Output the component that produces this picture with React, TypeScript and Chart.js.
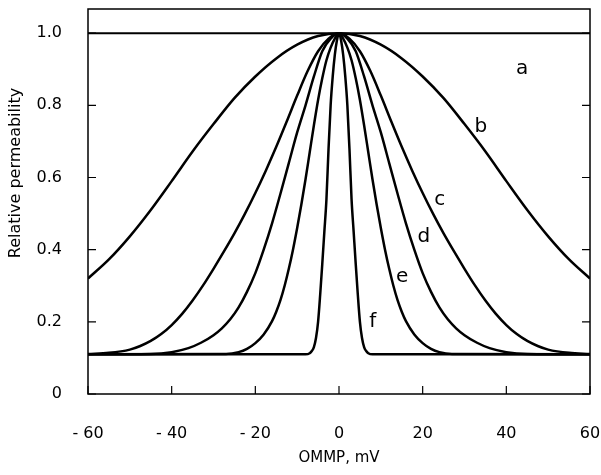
import React, { useEffect, useRef } from 'react';
import { Chart, registerables } from 'chart.js';

Chart.register(...registerables);

// x range and ticks (mV)
const xTicks = [-60, -40, -20, 0, 20, 40, 60];
const yTicks = [0, 0.2, 0.4, 0.6, 0.8, 1.0];

// curve a: flat
const aX = [-60, 60];
const aY = [1.0, 1.0];

// half profiles (offset from 0 mV), curves are symmetric about 0
const bOffsets = [0, 5, 10, 15, 20, 25, 30, 35, 40, 45, 50, 55, 60];
const bValues = [1.0, 0.992, 0.968, 0.93, 0.88, 0.82, 0.748, 0.672, 0.59, 0.51, 0.437, 0.373, 0.32];

const cOffsets = [0, 2.5, 5, 7.5, 10, 12.5, 15, 17.5, 20, 22.5, 25, 27.5, 30, 32.5, 35, 37.5, 40, 42.5, 45, 47.5, 50, 55, 60];
const cValues = [1.0, 0.985, 0.95, 0.895, 0.827, 0.755, 0.685, 0.619, 0.557, 0.499, 0.445, 0.395, 0.347, 0.301, 0.259, 0.222, 0.191, 0.166, 0.147, 0.133, 0.123, 0.114, 0.111];

const dOffsets = [0, 2, 4, 6, 8, 10, 12, 14, 16, 18, 20, 22, 24, 26, 28, 30, 33, 36, 40, 45, 60];
const dValues = [1.0, 0.985, 0.95, 0.88, 0.8, 0.725, 0.64, 0.555, 0.473, 0.4, 0.335, 0.283, 0.24, 0.207, 0.182, 0.163, 0.142, 0.127, 0.116, 0.111, 0.11];

const eOffsets = [0, 1, 2, 3, 4, 5, 6, 7, 8, 9, 10, 11, 12, 13, 14, 15, 16, 18, 20, 22, 24, 27, 60];
const eValues = [1.0, 0.985, 0.96, 0.925, 0.875, 0.815, 0.745, 0.67, 0.595, 0.525, 0.46, 0.4, 0.347, 0.3, 0.26, 0.228, 0.202, 0.165, 0.141, 0.125, 0.116, 0.111, 0.11];

const fOffsets = [0, 0.5, 1, 1.5, 2, 2.5, 3, 3.5, 4, 4.5, 5, 5.5, 6, 6.5, 7, 8, 60];
const fValues = [1.0, 0.98, 0.94, 0.88, 0.8, 0.68, 0.54, 0.45, 0.36, 0.275, 0.2, 0.155, 0.13, 0.119, 0.113, 0.11, 0.11];

// curve letter annotations (data coordinates)
const letterText = ['a', 'b', 'c', 'd', 'e', 'f'];
const letterX = [43.8, 33.9, 24.1, 20.3, 15.1, 8.1];
const letterY = [0.9, 0.74, 0.537, 0.435, 0.324, 0.2];

const FONT = "'DejaVu Sans', sans-serif";

function mirror(offsets: number[], values: number[]) {
  const pts: { x: number; y: number }[] = [];
  for (let i = offsets.length - 1; i > 0; i--) pts.push({ x: -offsets[i], y: values[i] });
  for (let i = 0; i < offsets.length; i++) pts.push({ x: offsets[i], y: values[i] });
  return pts;
}

const framePlugin = {
  id: 'frame',
  afterDraw(chart: any) {
    const { ctx, chartArea, scales } = chart;
    const { left, right, top, bottom } = chartArea;
    ctx.save();
    ctx.strokeStyle = '#000';
    ctx.lineWidth = 1.5;
    ctx.strokeRect(left, top, right - left, bottom - top);
    ctx.lineWidth = 1.2;
    const tl = 8;
    xTicks.forEach((v) => {
      const px = scales.x.getPixelForValue(v);
      ctx.beginPath();
      ctx.moveTo(px, bottom);
      ctx.lineTo(px, bottom - tl);
      ctx.stroke();
    });
    yTicks.forEach((v) => {
      const py = scales.y.getPixelForValue(v);
      ctx.beginPath();
      ctx.moveTo(left, py);
      ctx.lineTo(left + tl, py);
      ctx.moveTo(right, py);
      ctx.lineTo(right - tl, py);
      ctx.stroke();
    });
    // letters
    ctx.fillStyle = '#000';
    ctx.font = `20px ${FONT}`;
    ctx.textAlign = 'center';
    ctx.textBaseline = 'middle';
    letterText.forEach((t, i) => {
      ctx.fillText(t, scales.x.getPixelForValue(letterX[i]), scales.y.getPixelForValue(letterY[i]));
    });
    // y axis title
    ctx.font = `16px ${FONT}`;
    ctx.translate(16, 173);
    ctx.rotate(-Math.PI / 2);
    ctx.fillText('Relative permeability', 0, 0);
    ctx.restore();
  },
};

export default function App() {
  const ref = useRef<HTMLCanvasElement>(null);
  useEffect(() => {
    document.body.style.margin = '0';
    if (!ref.current) return;
    const line = (data: { x: number; y: number }[], w = 2.5) => ({
      data,
      showLine: true,
      borderColor: '#000',
      backgroundColor: '#000',
      borderWidth: w,
      pointRadius: 0,
      cubicInterpolationMode: 'monotone' as const,
      fill: false,
    });
    const chart = new Chart(ref.current, {
      type: 'scatter',
      data: {
        datasets: [
          line(aX.map((x, i) => ({ x, y: aY[i] })), 2),
          line(mirror(bOffsets, bValues)),
          line(mirror(cOffsets, cValues)),
          line(mirror(dOffsets, dValues)),
          line(mirror(eOffsets, eValues)),
          line(mirror(fOffsets, fValues)),
        ],
      },
      options: {
        animation: false,
        responsive: false,
        layout: { padding: { top: 9, right: 11, left: 0, bottom: 0 } },
        plugins: { legend: { display: false }, tooltip: { enabled: false } },
        scales: {
          x: {
            type: 'linear',
            min: -60,
            max: 60,
            afterBuildTicks: (s: any) => {
              s.ticks = xTicks.map((v) => ({ value: v }));
            },
            afterFit: (s: any) => {
              s.height = 81;
              s.paddingLeft = 0;
              s.paddingRight = 0;
            },
            grid: { display: false },
            border: { display: false },
            ticks: {
              padding: 22,
              color: '#000',
              maxRotation: 0,
              font: { family: FONT, size: 16 },
              callback: (v: any) => (Number(v) < 0 ? '- ' + Math.abs(Number(v)) : String(v)),
            },
            title: {
              display: true,
              text: 'OMMP, mV',
              color: '#000',
              font: { family: FONT, size: 15 },
              padding: { top: 0, bottom: 8 },
            },
          },
          y: {
            type: 'linear',
            min: 0,
            max: 1.067,
            afterBuildTicks: (s: any) => {
              s.ticks = yTicks.map((v) => ({ value: v }));
            },
            afterFit: (s: any) => {
              s.width = 88;
              s.paddingTop = 0;
              s.paddingBottom = 0;
            },
            grid: { display: false },
            border: { display: false },
            ticks: {
              padding: 18,
              color: '#000',
              font: { family: FONT, size: 16 },
              callback: (v: any) => (Number(v) === 0 ? '0' : Number(v).toFixed(1)),
            },
          },
        },
      },
      plugins: [framePlugin],
    });
    return () => chart.destroy();
  }, []);
  return <canvas ref={ref} width={601} height={475} style={{ display: 'block' }} />;
}
